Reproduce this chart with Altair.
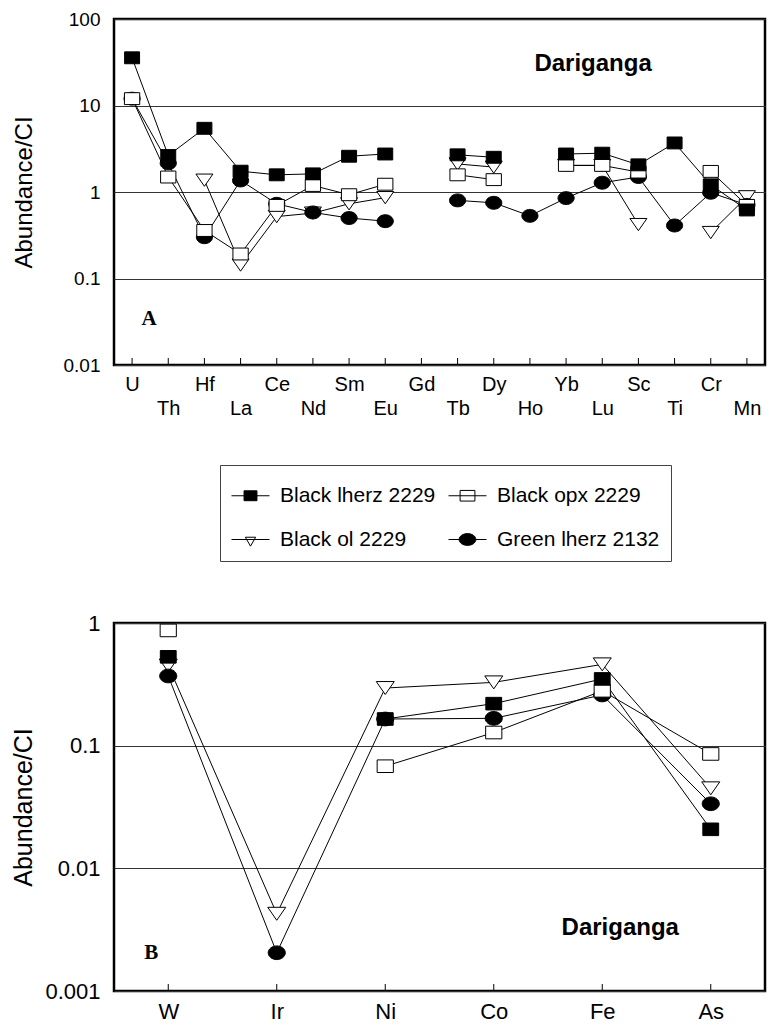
import json
import altair as alt
import pandas as pd

FONT = "Liberation Sans"

series_names = ["Black lherz 2229", "Black opx 2229", "Black ol 2229", "Green lherz 2132"]
series_fill = ["black", "white", "white", "black"]
draw_rank = [4, 3, 1, 2]

# Panel A: trace elements
elements_a = ["U", "Th", "Hf", "La", "Ce", "Nd", "Sm", "Eu", "Gd", "Tb",
              "Dy", "Ho", "Yb", "Lu", "Sc", "Ti", "Cr", "Mn"]
black_lherz_a = [35.6, 2.64, 5.45, 1.74, 1.58, 1.62, 2.59, 2.75, None, 2.69,
                 2.52, None, 2.75, 2.81, 2.06, 3.69, 1.21, 0.62]
black_opx_a = [12.0, 1.49, 0.359, 0.192, 0.70, 1.19, 0.93, 1.23, None, 1.58,
               1.39, None, 2.03, 2.03, 1.70, None, 1.73, 0.70]
black_ol_a = [None, None, 1.37, 0.143, 0.52, 0.57, 0.73, 0.86, None, 2.11,
              1.94, None, 2.03, 2.03, 0.42, None, 0.34, 0.88]
green_lherz_a = [12.0, 2.15, 0.30, 1.36, 0.73, 0.58, 0.50, 0.46, None, 0.80,
                 0.75, 0.53, 0.85, 1.28, 1.49, 0.41, 0.98, 0.71]

# Panel B: siderophile elements
elements_b = ["W", "Ir", "Ni", "Co", "Fe", "As"]
black_lherz_b = [0.53, None, 0.165, 0.22, 0.35, 0.0208]
black_opx_b = [0.87, None, 0.068, 0.128, 0.28, 0.0856]
black_ol_b = [0.45, 0.00426, 0.295, 0.328, 0.46, 0.0449]
green_lherz_b = [0.37, 0.00205, 0.165, 0.167, 0.259, 0.0336]

y_ticks_a = [0.01, 0.1, 1, 10, 100]
y_ticks_b = [0.001, 0.01, 0.1, 1]

marker_paths = [
    "M-0.88,-0.7H0.88V0.7H-0.88Z",
    "M-0.9,-0.7H0.9V0.7H-0.9Z",
    "M-1,-0.72H1L0,0.72Z",
    "M-0.95,0A0.95,0.76,0,1,1,0.95,0A0.95,0.76,0,1,1,-0.95,0Z",
]
legend_paths = [
    "M-1,0H1M-0.34,-0.26H0.34V0.26H-0.34Z",
    "M-1,0H1M-0.39,-0.28H0.39V0.28H-0.39Z",
    "M-1,0H1M-0.27,-0.12H0.27L0,0.35Z",
    "M-1,0H1M-0.44,0A0.44,0.31,0,1,1,0.44,0A0.44,0.31,0,1,1,-0.44,0Z",
]


def build(elements, columns):
    rows = []
    for s, (name, vals) in enumerate(zip(series_names, columns)):
        seg = 0
        for i, v in enumerate(vals):
            if v is None:
                seg += 1
                continue
            rows.append({"element": elements[i], "idx": i, "value": v,
                         "series": name, "seg": f"{s}-{seg}",
                         "rank": draw_rank[s]})
    return pd.DataFrame(rows)


def panel(elements, columns, y_ticks, width, height, lab_size, title_size,
          msize, two_rows, name_pos, letter, letter_pos, legend=False):
    df = build(elements, columns)
    x_scale = alt.Scale(domain=elements, type="point", padding=0.5)
    y_scale = alt.Scale(type="log", domain=[y_ticks[0], y_ticks[-1]], nice=False)
    if two_rows:
        lower = json.dumps(elements[1::2])
        lab_expr = f"indexof({lower}, datum.value) >= 0 ? ['', datum.label] : datum.label"
    else:
        lab_expr = "datum.label"
    x_axis = alt.Axis(title=None, labelAngle=0, labelFontSize=lab_size,
                      labelFont=FONT, labelColor="black", labelExpr=lab_expr,
                      labelLineHeight=24, labelPadding=9 if two_rows else 10,
                      labelOverlap=False, ticks=False, domain=False, grid=False,
                      labelBaseline="top")
    y_axis = alt.Axis(values=y_ticks, format="~g", title="Abundance/CI",
                      titleFontSize=title_size, titleFont=FONT,
                      titleFontWeight="normal", titleColor="black",
                      labelFontSize=lab_size - (1 if two_rows else 0),
                      labelFont=FONT, labelColor="black",
                      labelPadding=14, ticks=False, domain=False, grid=True,
                      gridColor="#333333", gridWidth=1, minExtent=64,
                      maxExtent=64, titlePadding=14, labelOverlap=False)
    X = alt.X("element:N", scale=x_scale, axis=x_axis)
    Y = alt.Y("value:Q", scale=y_scale, axis=y_axis)

    ticks = alt.Chart(pd.DataFrame({"element": elements})).mark_rule(
        color="black", strokeWidth=1).encode(
        x=X, y=alt.value(height), y2=alt.value(height - 7))
    lines = alt.Chart(df).mark_line(color="black", strokeWidth=1).encode(
        x=X, y=Y, detail="seg:N", order="idx:Q")
    points = alt.Chart(df).mark_point(filled=True, opacity=1, size=msize,
                                      strokeWidth=1).encode(
        x=X, y=Y,
        shape=alt.Shape("series:N", scale=alt.Scale(domain=series_names,
                                                    range=marker_paths), legend=None),
        fill=alt.Fill("series:N", scale=alt.Scale(domain=series_names,
                                                  range=series_fill), legend=None),
        stroke=alt.value("black"),
        order=alt.Order("rank:Q"))
    name_txt = alt.Chart(pd.DataFrame({"label": ["Dariganga"]})).mark_text(
        font=FONT, fontSize=24, fontWeight="bold", color="black",
        align="center", baseline="middle", dx=name_pos[2]).encode(
        x=alt.datum(name_pos[0]), y=alt.datum(name_pos[1]), text="label:N")
    letter_txt = alt.Chart(pd.DataFrame({"label": [letter]})).mark_text(
        font="Liberation Serif", fontSize=21, fontWeight="bold", color="black",
        align="center", baseline="middle", dx=letter_pos[2]).encode(
        x=alt.datum(letter_pos[0]), y=alt.datum(letter_pos[1]), text="label:N")
    layers = [ticks, lines, points, name_txt, letter_txt]
    if legend:
        leg = alt.Legend(title=None, orient="none", legendX=106, legendY=446,
                         columns=2, direction="horizontal", labelFontSize=21,
                         labelFont=FONT, labelColor="black", labelOffset=10,
                         labelLimit=0, symbolSize=1444, symbolStrokeWidth=1,
                         symbolOpacity=1, rowPadding=14, columnPadding=10,
                         padding=11, strokeColor="#444444", fillColor="white")
        leg_layer = alt.Chart(df).mark_point(filled=True, opacity=0,
                                             strokeWidth=1).encode(
            x=X, y=Y,
            shape=alt.Shape("series:N", scale=alt.Scale(domain=series_names,
                                                        range=legend_paths), legend=leg),
            fill=alt.Fill("series:N", scale=alt.Scale(domain=series_names,
                                                      range=series_fill), legend=leg),
            stroke=alt.Stroke("series:N", scale=alt.Scale(domain=series_names,
                                                          range=["black"] * 4), legend=leg))
        layers.append(leg_layer)
    return alt.layer(*layers).resolve_scale(
        shape="independent", fill="independent", stroke="independent").properties(
        width=width, height=height)


panel_a = panel(elements_a,
                [black_lherz_a, black_opx_a, black_ol_a, green_lherz_a],
                y_ticks_a, 651, 346, 20, 24, 289, True,
                ("Yb", 30, 27), "A", ("U", 0.034, 17), legend=True)
panel_b = panel(elements_b,
                [black_lherz_b, black_opx_b, black_ol_b, green_lherz_b],
                y_ticks_b, 651, 368, 22, 25, 324, False,
                ("Fe", 0.00327, 18), "B", ("W", 0.00205, -17))

chart = alt.vconcat(panel_a, panel_b, spacing=47).resolve_scale(
    x="independent", y="independent", shape="independent",
    fill="independent", stroke="independent").properties(
    padding={"left": 1, "top": 0, "right": 0, "bottom": 0}
).configure(font=FONT).configure_view(stroke="black", strokeWidth=2.5)

chart.save("out.html", embed_options={"renderer": "svg", "actions": False})
